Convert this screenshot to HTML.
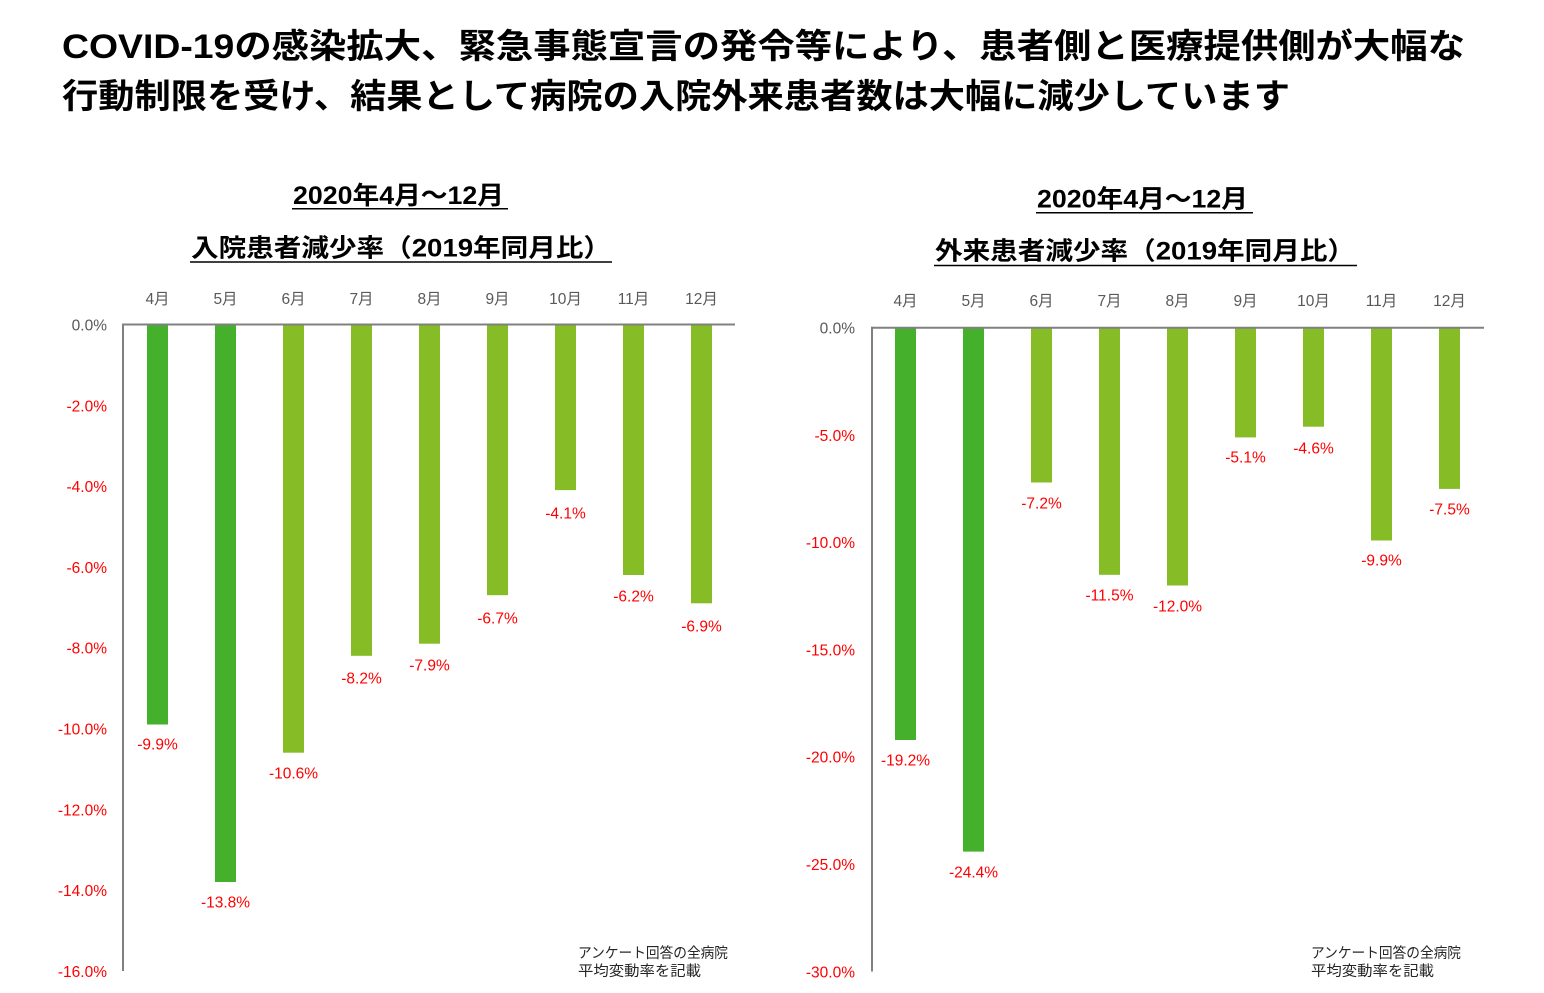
<!DOCTYPE html>
<html>
<head>
<meta charset="utf-8">
<style>
html,body{margin:0;padding:0;background:#fff;}
svg{display:block;}
text{font-family:"Liberation Sans","Noto Sans CJK JP",sans-serif;}
</style>
</head>
<body>
<svg width="1544" height="993" viewBox="0 0 1544 993" xmlns="http://www.w3.org/2000/svg">
<rect width="1544" height="993" fill="#fff"/>

<!-- Main title -->
<text x="62" y="58" font-size="34" font-weight="bold" fill="#000" textLength="1403" lengthAdjust="spacingAndGlyphs">COVID-19の感染拡大、緊急事態宣言の発令等により、患者側と医療提供側が大幅な</text>
<text x="62" y="108" font-size="34" font-weight="bold" fill="#000" textLength="1228" lengthAdjust="spacingAndGlyphs">行動制限を受け、結果として病院の入院外来患者数は大幅に減少しています</text>

<!-- Left subtitles -->
<text x="293" y="204" font-size="25" font-weight="bold" fill="#000" textLength="211" lengthAdjust="spacingAndGlyphs">2020年4月～12月</text>
<line x1="292" y1="208.8" x2="508" y2="208.8" stroke="#000" stroke-width="1.5"/>
<text x="191" y="256.5" font-size="25" font-weight="bold" fill="#000" textLength="420" lengthAdjust="spacingAndGlyphs">入院患者減少率（2019年同月比）</text>
<line x1="190" y1="262" x2="612" y2="262" stroke="#000" stroke-width="1.5"/>

<!-- Right subtitles -->
<text x="1037" y="207.5" font-size="25" font-weight="bold" fill="#000" textLength="211" lengthAdjust="spacingAndGlyphs">2020年4月～12月</text>
<line x1="1036" y1="212.8" x2="1253" y2="212.8" stroke="#000" stroke-width="1.5"/>
<text x="935" y="259.5" font-size="25" font-weight="bold" fill="#000" textLength="420" lengthAdjust="spacingAndGlyphs">外来患者減少率（2019年同月比）</text>
<line x1="934" y1="265.5" x2="1357" y2="265.5" stroke="#000" stroke-width="1.5"/>

<!-- ============ LEFT CHART ============ -->
<g font-size="15.5" fill="#595959" text-anchor="middle">
<text x="157.5" y="304">4月</text>
<text x="225.5" y="304">5月</text>
<text x="293.5" y="304">6月</text>
<text x="361.5" y="304">7月</text>
<text x="429.5" y="304">8月</text>
<text x="497.5" y="304">9月</text>
<text x="565.5" y="304">10月</text>
<text x="633.5" y="304">11月</text>
<text x="701.5" y="304">12月</text>
</g>
<!-- tick labels (0 at 324.5, 40.4 px per %) -->
<g font-size="15.5" text-anchor="end">
<text x="107" y="330.5" fill="#595959">0.0%</text>
<text x="107" y="411.3" fill="#ff0000">-2.0%</text>
<text x="107" y="492.1" fill="#ff0000">-4.0%</text>
<text x="107" y="572.9" fill="#ff0000">-6.0%</text>
<text x="107" y="653.7" fill="#ff0000">-8.0%</text>
<text x="107" y="734.5" fill="#ff0000">-10.0%</text>
<text x="107" y="815.3" fill="#ff0000">-12.0%</text>
<text x="107" y="896.1" fill="#ff0000">-14.0%</text>
<text x="107" y="976.9" fill="#ff0000">-16.0%</text>
</g>
<!-- bars -->
<rect x="147" y="325" width="21" height="399.5" fill="#44b02b"/>
<rect x="215" y="325" width="21" height="557.0" fill="#44b02b"/>
<rect x="283" y="325" width="21" height="427.7" fill="#86bc25"/>
<rect x="351" y="325" width="21" height="330.8" fill="#86bc25"/>
<rect x="419" y="325" width="21" height="318.7" fill="#86bc25"/>
<rect x="487" y="325" width="21" height="270.2" fill="#86bc25"/>
<rect x="555" y="325" width="21" height="165.1" fill="#86bc25"/>
<rect x="623" y="325" width="21" height="250.0" fill="#86bc25"/>
<rect x="691" y="325" width="21" height="278.3" fill="#86bc25"/>
<!-- data labels -->
<g font-size="15.5" fill="#ff0000" text-anchor="middle">
<text x="157.5" y="749.5">-9.9%</text>
<text x="225.5" y="907.5">-13.8%</text>
<text x="293.5" y="778.5">-10.6%</text>
<text x="361.5" y="683.5">-8.2%</text>
<text x="429.5" y="670.5">-7.9%</text>
<text x="497.5" y="623.5">-6.7%</text>
<text x="565.5" y="518.5">-4.1%</text>
<text x="633.5" y="601.5">-6.2%</text>
<text x="701.5" y="631.5">-6.9%</text>
</g>
<!-- axes -->
<line x1="122" y1="324.5" x2="735" y2="324.5" stroke="#808080" stroke-width="2"/>
<line x1="123" y1="323.5" x2="123" y2="971" stroke="#808080" stroke-width="2"/>
<!-- note -->
<g font-size="14.5" fill="#262626">
<text x="578" y="958" textLength="150" lengthAdjust="spacingAndGlyphs">アンケート回答の全病院</text>
<text x="578" y="976" textLength="123" lengthAdjust="spacingAndGlyphs">平均変動率を記載</text>
</g>

<!-- ============ RIGHT CHART ============ -->
<g font-size="15.5" fill="#595959" text-anchor="middle">
<text x="905.5" y="306">4月</text>
<text x="973.5" y="306">5月</text>
<text x="1041.5" y="306">6月</text>
<text x="1109.5" y="306">7月</text>
<text x="1177.5" y="306">8月</text>
<text x="1245.5" y="306">9月</text>
<text x="1313.5" y="306">10月</text>
<text x="1381.5" y="306">11月</text>
<text x="1449.5" y="306">12月</text>
</g>
<!-- tick labels (0 at 327.7, 21.46 px per %) -->
<g font-size="15.5" text-anchor="end">
<text x="855" y="333.5" fill="#595959">0.0%</text>
<text x="855" y="440.8" fill="#ff0000">-5.0%</text>
<text x="855" y="548.1" fill="#ff0000">-10.0%</text>
<text x="855" y="655.4" fill="#ff0000">-15.0%</text>
<text x="855" y="762.7" fill="#ff0000">-20.0%</text>
<text x="855" y="870.0" fill="#ff0000">-25.0%</text>
<text x="855" y="977.3" fill="#ff0000">-30.0%</text>
</g>
<!-- bars -->
<rect x="895" y="328" width="21" height="412.0" fill="#44b02b"/>
<rect x="963" y="328" width="21" height="523.6" fill="#44b02b"/>
<rect x="1031" y="328" width="21" height="154.5" fill="#86bc25"/>
<rect x="1099" y="328" width="21" height="246.8" fill="#86bc25"/>
<rect x="1167" y="328" width="21" height="257.5" fill="#86bc25"/>
<rect x="1235" y="328" width="21" height="109.4" fill="#86bc25"/>
<rect x="1303" y="328" width="21" height="98.7" fill="#86bc25"/>
<rect x="1371" y="328" width="21" height="212.5" fill="#86bc25"/>
<rect x="1439" y="328" width="21" height="160.9" fill="#86bc25"/>
<!-- data labels -->
<g font-size="15.5" fill="#ff0000" text-anchor="middle">
<text x="905.5" y="765.5">-19.2%</text>
<text x="973.5" y="877.5">-24.4%</text>
<text x="1041.5" y="508.5">-7.2%</text>
<text x="1109.5" y="600.5">-11.5%</text>
<text x="1177.5" y="611.5">-12.0%</text>
<text x="1245.5" y="462.5">-5.1%</text>
<text x="1313.5" y="453.5">-4.6%</text>
<text x="1381.5" y="565.5">-9.9%</text>
<text x="1449.5" y="514.5">-7.5%</text>
</g>
<!-- axes -->
<line x1="871" y1="327.7" x2="1484" y2="327.7" stroke="#808080" stroke-width="2"/>
<line x1="872" y1="326.7" x2="872" y2="971.5" stroke="#808080" stroke-width="2"/>
<!-- note -->
<g font-size="14.5" fill="#262626">
<text x="1311" y="958" textLength="150" lengthAdjust="spacingAndGlyphs">アンケート回答の全病院</text>
<text x="1311" y="976" textLength="123" lengthAdjust="spacingAndGlyphs">平均変動率を記載</text>
</g>
</svg>
</body>
</html>
